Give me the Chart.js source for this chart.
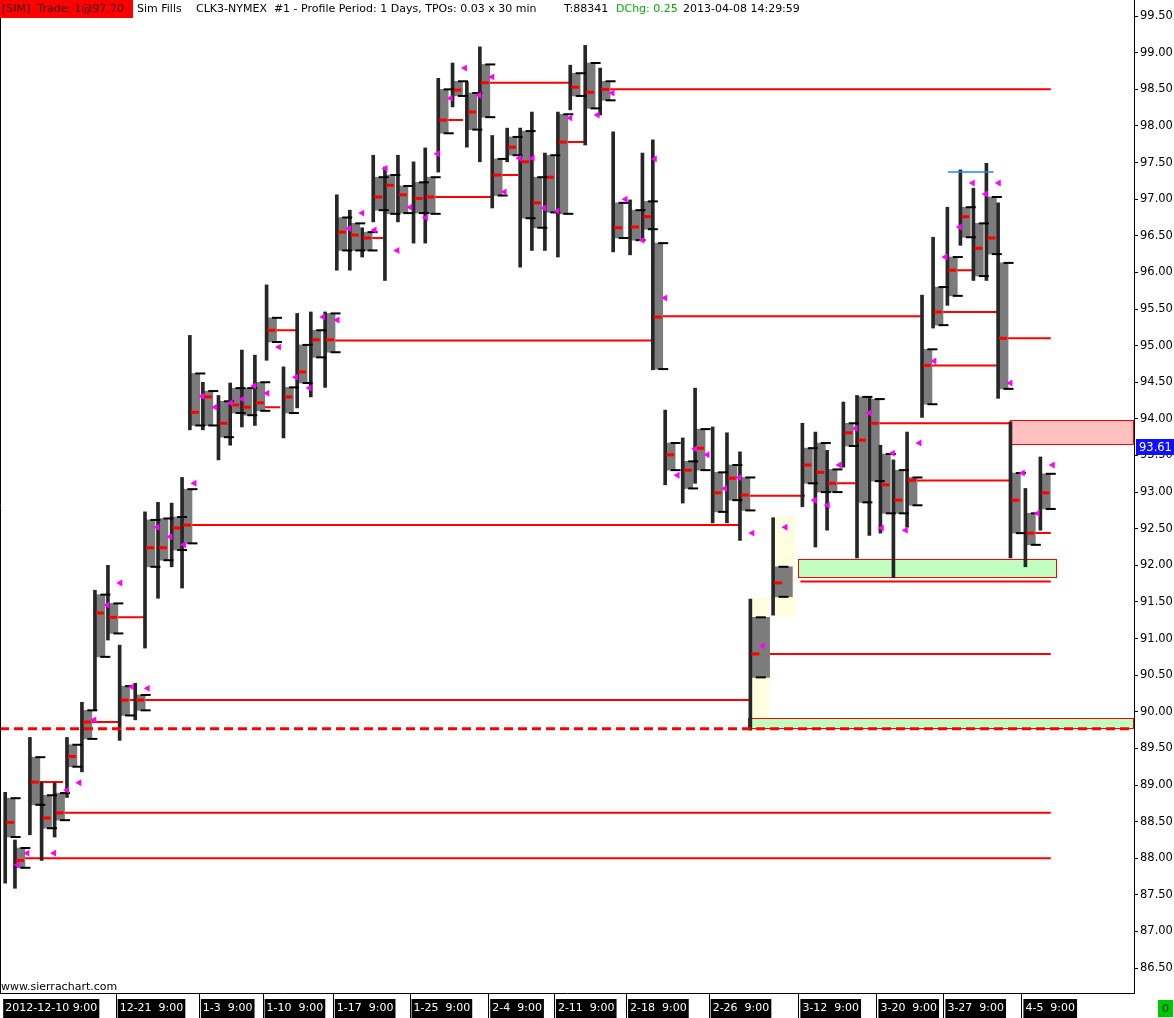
<!DOCTYPE html>
<html>
<head>
<meta charset="utf-8">
<script src="https://cdn.jsdelivr.net/npm/chart.js@4.4.1/dist/chart.umd.min.js"></script>
<style>
  body { margin: 0; background: #fff; }
  #wrap { position: relative; width: 1174px; height: 1018px; overflow: hidden; }
  #tpoChart { position: absolute; left: 0; top: 0; }
  .hd { position: absolute; top: 1px; font: 11px "DejaVu Sans", sans-serif; line-height: 16px; white-space: pre; color: #000; }
  #simBox { position: absolute; left: 0; top: 0; width: 133px; height: 18px; background: #ff0000; }
  #zeroBox { position: absolute; left: 1158px; top: 1000px; width: 15px; height: 17px; background: #00c800;
             font: 11px "DejaVu Sans", sans-serif; line-height: 17px; text-align: center; color: #003000; }
</style>
</head>
<body>
<div id="wrap">
  <canvas id="tpoChart" width="1174" height="1018"></canvas>
  <div id="simBox"></div>
  <span class="hd" style="left:2px;color:#3c0000">[SIM]  Trade: 1@97.70</span>
  <span class="hd" style="left:137px">Sim Fills</span>
  <span class="hd" style="left:196px">CLK3-NYMEX  #1 - Profile Period: 1 Days, TPOs: 0.03 x 30 min</span>
  <span class="hd" style="left:564px">T:88341</span>
  <span class="hd" style="left:616px;color:#00b000">DChg: 0.25</span>
  <span class="hd" style="left:683px">2013-04-08 14:29:59</span>
  <span class="hd" style="left:1px;top:979px">www.sierrachart.com</span>
  <div id="zeroBox">0</div>
</div>
<script>
// position of each daily profile, in sessions from the left edge
const sessionPos = [0.4, 1.15, 2.3, 3.2, 4.2, 5.15, 6.3, 7.3, 8.3, 9.2, 10.4, 11.15, 12.15, 13.2, 14.0, 14.6, 15.6, 16.8, 17.7, 18.6,
  19.6, 20.5, 21.8, 22.85, 23.9, 25.0, 25.9, 26.9, 27.85, 28.7, 29.6, 30.6, 31.8, 32.7, 33.7, 34.8, 35.9, 36.9, 37.85, 39.0,
  40.0, 40.9, 41.9, 42.9, 43.85, 45.0, 46.15, 47.15, 48.45, 49.4, 50.2, 51.15, 52.5, 53.45, 54.8, 55.9, 56.9, 57.7, 59.45, 61.7,
  62.7, 63.6, 64.85, 65.9, 66.85, 67.7, 68.7, 69.75, 70.9, 71.75, 72.85, 73.85, 74.85, 75.85, 76.75, 77.7, 78.85, 80.0];

const highs = [88.90, 88.25, 89.65, 89.04, 89.03, 89.65, 90.13, 91.66, 92.00, 90.91, 90.39, 92.73, 92.86, 92.85, 93.20, 95.14, 94.50, 94.32, 94.49, 94.94,
  94.87, 95.83, 94.71, 95.44, 95.46, 95.46, 97.06, 96.85, 96.61, 97.60, 97.44, 97.60, 97.51, 97.70, 98.65, 98.86, 98.60, 99.08, 97.87, 97.97,
  97.97, 98.19, 97.63, 98.19, 98.83, 99.10, 98.79, 97.92, 96.99, 97.63, 97.81, 94.12, 93.74, 94.42, 93.89, 93.81, 93.55, 91.54, 92.65, 93.94,
  93.82, 93.57, 94.23, 94.32, 94.30, 93.64, 93.44, 93.82, 95.69, 96.48, 96.89, 97.40, 97.15, 97.49, 96.95, 93.96, 93.05, 93.48];

const lows = [87.66, 87.59, 88.32, 87.97, 88.29, 88.83, 89.18, 90.02, 90.98, 89.61, 89.89, 90.87, 91.55, 91.98, 91.69, 93.85, 93.85, 93.44, 93.64, 93.89,
  93.91, 94.80, 93.74, 94.15, 94.30, 94.43, 96.03, 96.03, 96.21, 96.69, 95.89, 96.69, 96.40, 96.40, 97.37, 98.26, 97.71, 97.51, 96.88, 97.51,
  96.07, 96.30, 96.30, 96.21, 98.22, 97.74, 98.15, 96.28, 96.24, 96.44, 94.67, 93.10, 92.85, 93.12, 92.58, 92.58, 92.34, 89.75, 91.32, 92.80,
  92.25, 92.48, 93.34, 92.10, 92.41, 92.44, 91.83, 92.52, 94.02, 95.24, 95.55, 96.37, 95.89, 95.89, 94.28, 92.10, 91.98, 92.48];

const vaHighs = [88.82, 88.14, 89.38, 88.86, 88.89, 89.55, 90.02, 91.60, 91.48, 90.35, 90.23, 92.62, 92.64, 92.66, 93.04, 94.62, 94.38, 94.24, 94.42, 94.42,
  94.50, 95.38, 94.43, 95.01, 95.21, 95.44, 96.75, 96.67, 96.55, 97.30, 97.33, 97.18, 97.23, 97.30, 98.50, 98.61, 98.45, 98.84, 97.55, 97.85,
  97.93, 97.30, 97.60, 98.16, 98.72, 98.86, 98.61, 96.95, 96.85, 96.97, 96.40, 93.67, 93.42, 93.86, 93.27, 93.37, 93.20, 91.29, 91.98, 93.60,
  93.67, 93.31, 93.94, 94.30, 94.27, 93.52, 93.30, 93.20, 94.95, 95.80, 96.21, 96.89, 96.67, 97.03, 96.13, 93.26, 92.71, 93.25];

const vaLows = [88.29, 87.87, 88.73, 88.41, 88.52, 89.25, 89.63, 90.75, 91.07, 89.95, 90.02, 91.98, 92.07, 92.21, 92.30, 93.91, 93.91, 93.75, 94.08, 94.05,
  94.11, 95.05, 94.08, 94.49, 94.84, 94.91, 96.30, 96.30, 96.30, 96.85, 96.80, 96.81, 96.81, 96.80, 97.90, 98.41, 97.95, 98.12, 97.05, 97.60,
  96.74, 96.61, 96.82, 96.80, 98.41, 98.24, 98.35, 96.47, 96.44, 96.59, 94.68, 93.30, 93.05, 93.30, 92.73, 92.89, 92.75, 90.47, 91.57, 93.12,
  93.00, 93.00, 93.63, 92.86, 93.15, 92.71, 92.71, 92.82, 94.20, 95.28, 95.68, 96.48, 95.95, 96.25, 94.41, 92.44, 92.28, 92.77];

const pocs = [88.49, 87.97, 89.04, 88.55, 88.62, 89.39, 89.86, 91.35, 91.29, 90.16, 90.16, 92.24, 92.24, 92.51, 92.55, 94.09, 94.30, 93.94, 94.19, 94.16,
  94.22, 95.21, 94.30, 94.64, 95.08, 95.08, 96.55, 96.51, 96.47, 97.03, 97.19, 97.06, 97.01, 97.03, 98.08, 98.49, 98.19, 98.59, 97.33, 97.71,
  97.51, 96.95, 97.30, 97.78, 98.53, 98.46, 98.50, 96.61, 96.62, 96.76, 95.39, 93.51, 93.30, 93.60, 92.99, 93.19, 92.96, 90.79, 91.76, 93.37,
  93.27, 93.12, 93.81, 93.71, 93.94, 93.10, 92.89, 93.16, 94.73, 95.46, 96.03, 96.76, 96.33, 96.47, 95.10, 92.89, 92.44, 92.99];

const opens = [87.91, 88.07, null, 88.07, 88.93, 89.03, 89.89, 91.46, 91.76, 90.34, 90.32, 92.52, 92.39, 92.28, 93.12, 94.31, 94.16, 94.22, 94.27, 94.45,
  94.35, 94.98, 94.57, 94.42, 95.39, 95.35, 96.60, 96.81, 96.58, 97.42, 96.30, 96.89, 96.75, 97.62, 98.38, 98.79, 98.42, 98.67, 97.10, 97.56,
  97.56, 96.88, 96.84, 98.11, null, 98.15, 98.45, 97.00, 96.44, 97.55, 95.65, 93.23, 93.59, 93.51, 93.05, 93.20, 92.44, 90.90, 92.52, 92.89,
  92.82, 93.37, 93.87, 94.08, 92.51, 93.53, 92.48, 93.67, 94.79, 96.21, 96.62, 97.22, 97.07, 97.22, 94.49, 93.26, 92.71, 93.37];

// merged multi-day profiles (drawn wider)
const compositeIdx = [57, 58];

// naked point-of-control extensions
const pocLinePrice = [88.62, 88.00, 90.16, 92.55, 95.07, 95.40, 97.03, 98.59, 98.50, 92.95, 91.78, 90.79, 93.94, 93.16, 94.73,
  95.46, 96.03, 95.10, 92.44, 89.04, 89.86, 91.29, 95.21, 96.47, 97.33, 97.78, 93.12, 94.16, 98.08];
const pocLineFrom = [4.6, 1.9, 10.0, 14.45, 25.4, 50.8, 33.45, 37.55, 46.55, 57.3, 61.55, 59.2, 67.3, 70.4, 71.3,
  72.15, 73.2, 77.15, 79.2, 2.6, 6.6, 8.6, 20.9, 28.1, 38.45, 43.3, 63.85, 20.2, 34.2];
const pocLineTo = [80.8, 80.8, 57.7, 56.9, 50.2, 70.9, 37.85, 43.85, 80.8, 61.9, 80.8, 80.8, 77.7, 77.7, 76.75,
  76.75, 74.8, 80.8, 80.8, 4.85, 9.1, 11.15, 22.85, 29.45, 39.85, 45.0, 65.75, 21.55, 35.6];

// shaded zones
const zoneFrom = [59.45, 57.7, 61.4, 57.55, 77.7];
const zoneTo = [61.15, 59.1, 81.3, 87.2, 87.2];
const zoneHigh = [92.68, 91.55, 92.08, 89.92, 93.98];
const zoneLow = [91.29, 89.72, 91.83, 89.77, 93.64];
const zoneFill = ['#ffffe0', '#ffffe0', '#c0ffc0', '#c0ffc0', '#ffc0c0'];
const zoneEdge = [null, null, '#ff0000', '#ff0000', '#ff0000'];

const dashedLevel = 89.77;
const highLevel = 97.37, highFrom = 72.9, highTo = 76.4;
const lastPrice = 93.61;

const tickIdx = [0, 9, 16, 21, 26, 32, 38, 43, 48, 54, 59, 65, 70, 76];
const tickLabels = ['2012-12-10 9:00', '12-21  9:00', '1-3  9:00', '1-10  9:00', '1-17  9:00', '1-25  9:00', '2-4  9:00',
  '2-11  9:00', '2-18  9:00', '2-26  9:00', '3-12  9:00', '3-20  9:00', '3-27  9:00', '4-5  9:00'];
const priceTicks = [86.5, 87, 87.5, 88, 88.5, 89, 89.5, 90, 90.5, 91, 91.5, 92, 92.5, 93, 93.5, 94, 94.5, 95, 95.5, 96,
  96.5, 97, 97.5, 98, 98.5, 99, 99.5];

const xMax = 87.2;
const bodyShift = 0.38, tickShift = 0.8, openShift = 0.95, wideShift = 0.75;
const font = { family: 'DejaVu Sans', size: 11 };

const idx = sessionPos.map((p, i) => i);
const plain = idx.filter(i => !compositeIdx.includes(i));

const pocSegments = [];
pocLinePrice.forEach((p, i) => {
  pocSegments.push({ x: pocLineFrom[i], y: p }, { x: pocLineTo[i], y: p }, { x: pocLineTo[i], y: null });
});

const sierraPlugin = {
  id: 'sierraPlugin',
  beforeDraw(chart) {
    const ctx = chart.ctx;
    ctx.save();
    ctx.fillStyle = '#fff';
    ctx.fillRect(0, 0, chart.width, chart.height);
    ctx.restore();
  },
  beforeDatasetsDraw(chart) {
    const { ctx, scales: { x, y } } = chart;
    ctx.save();
    zoneFrom.forEach((x1, i) => {
      const l = Math.round(x.getPixelForValue(x1)), r = Math.round(x.getPixelForValue(zoneTo[i]));
      const t = Math.round(y.getPixelForValue(zoneHigh[i])), b = Math.round(y.getPixelForValue(zoneLow[i]));
      ctx.fillStyle = zoneFill[i];
      ctx.fillRect(l, t, r - l, b - t);
      if (zoneEdge[i]) {
        ctx.strokeStyle = zoneEdge[i];
        ctx.lineWidth = 1;
        ctx.strokeRect(l + 0.5, t + 0.5, r - l - 1, b - t - 1);
      }
    });
    ctx.restore();
  },
  afterDraw(chart) {
    const { ctx, chartArea, scales: { x, y } } = chart;
    ctx.save();
    ctx.strokeStyle = '#000';
    ctx.lineWidth = 1;
    ctx.beginPath();
    ctx.moveTo(chartArea.left + 0.5, 18);
    ctx.lineTo(chartArea.left + 0.5, chartArea.bottom);
    // small separators in front of each date label
    tickIdx.forEach(i => {
      const px = Math.round(x.getPixelForValue(sessionPos[i])) - 3.5;
      if (px > 2) { ctx.moveTo(px, chartArea.bottom); ctx.lineTo(px, chart.height); }
    });
    ctx.stroke();
    const py = Math.round(y.getPixelForValue(lastPrice));
    ctx.fillStyle = '#1010ff';
    ctx.fillRect(chartArea.right + 2, py - 8, chart.width - chartArea.right - 2, 16);
    ctx.fillStyle = '#fff';
    ctx.font = '11.5px "DejaVu Sans"';
    ctx.textBaseline = 'middle';
    ctx.fillText(lastPrice.toFixed(2), chartArea.right + 5, py + 1);
    ctx.restore();
  }
};

new Chart(document.getElementById('tpoChart'), {
  type: 'bar',
  data: {
    datasets: [
      {
        type: 'line', label: 'naked POC', data: pocSegments, borderColor: '#ff0000', borderWidth: 2,
        pointRadius: 0, spanGaps: false, order: 9
      },
      {
        type: 'line', label: 'prior level', data: [{ x: 0, y: dashedLevel }, { x: xMax, y: dashedLevel }],
        borderColor: '#ff0000', borderWidth: 3, borderDash: [9, 5], pointRadius: 0, order: 1
      },
      {
        type: 'line', label: 'high', data: [{ x: highFrom, y: highLevel }, { x: highTo, y: highLevel }],
        borderColor: '#1e88f0', borderWidth: 1.5, pointRadius: 0, order: 1
      },
      {
        label: 'value area', data: plain.map(i => ({ x: sessionPos[i] + bodyShift, y: [vaLows[i], vaHighs[i]] })),
        backgroundColor: '#7c7c7c', barThickness: 10, grouped: false, order: 7
      },
      {
        label: 'composite', data: compositeIdx.map(i => ({ x: sessionPos[i] + wideShift, y: [vaLows[i], vaHighs[i]] })),
        backgroundColor: '#7c7c7c', barThickness: 19, grouped: false, order: 7
      },
      {
        label: 'range', data: idx.map(i => ({ x: sessionPos[i], y: [lows[i], highs[i]] })),
        backgroundColor: '#262626', barThickness: 3, grouped: false, order: 6
      },
      {
        type: 'line', label: 'POC', data: idx.map(i => ({ x: sessionPos[i] + bodyShift, y: pocs[i] })),
        showLine: false, pointStyle: 'line', pointRadius: 4, borderColor: '#ff0000', borderWidth: 3, order: 4
      },
      {
        type: 'line', label: 'VA edges',
        data: idx.flatMap(i => [{ x: sessionPos[i] + tickShift, y: vaHighs[i] }, { x: sessionPos[i] + tickShift, y: vaLows[i] }]),
        showLine: false, pointStyle: 'line', pointRadius: 5, borderColor: '#000', borderWidth: 2, order: 3
      },
      {
        type: 'line', label: 'open', data: idx.filter(i => opens[i] !== null).map(i => ({ x: sessionPos[i] + openShift, y: opens[i] })),
        showLine: false, pointStyle: 'triangle', rotation: -90, pointRadius: 4, backgroundColor: '#ff00ff',
        borderColor: '#ff00ff', borderWidth: 0, order: 2
      }
    ]
  },
  options: {
    responsive: false,
    devicePixelRatio: 1,
    animation: false,
    events: [],
    layout: { padding: 0, autoPadding: false },
    plugins: { legend: { display: false }, tooltip: { enabled: false } },
    scales: {
      x: {
        type: 'linear', min: 0, max: xMax, offset: false,
        grid: { display: false },
        border: { display: true, color: '#000', width: 1 },
        afterBuildTicks: ax => { ax.ticks = tickIdx.map(i => ({ value: sessionPos[i] })); },
        afterFit: ax => { ax.height = 25; ax.paddingLeft = 0; ax.paddingRight = 0; },
        ticks: {
          autoSkip: false, maxRotation: 0, minRotation: 0, align: 'start', padding: 1, color: '#fff', font,
          showLabelBackdrop: true, backdropColor: '#000',
          backdropPadding: { top: 3, bottom: 3, left: 2, right: 2 },
          callback: (v, i) => tickLabels[i]
        }
      },
      y: {
        position: 'right', min: 86.16, max: 99.72,
        grid: { display: true, drawOnChartArea: false, drawTicks: true, tickLength: 4, color: '#000' },
        border: { display: true, color: '#000', width: 1 },
        afterBuildTicks: ax => { ax.ticks = priceTicks.map(v => ({ value: v })); },
        afterFit: ax => { ax.width = 40; ax.paddingTop = 0; ax.paddingBottom = 0; },
        ticks: { color: '#000', padding: 2, font: { family: 'DejaVu Sans', size: 11.5 }, callback: v => v.toFixed(2) }
      }
    }
  },
  plugins: [sierraPlugin]
});
</script>
</body>
</html>
